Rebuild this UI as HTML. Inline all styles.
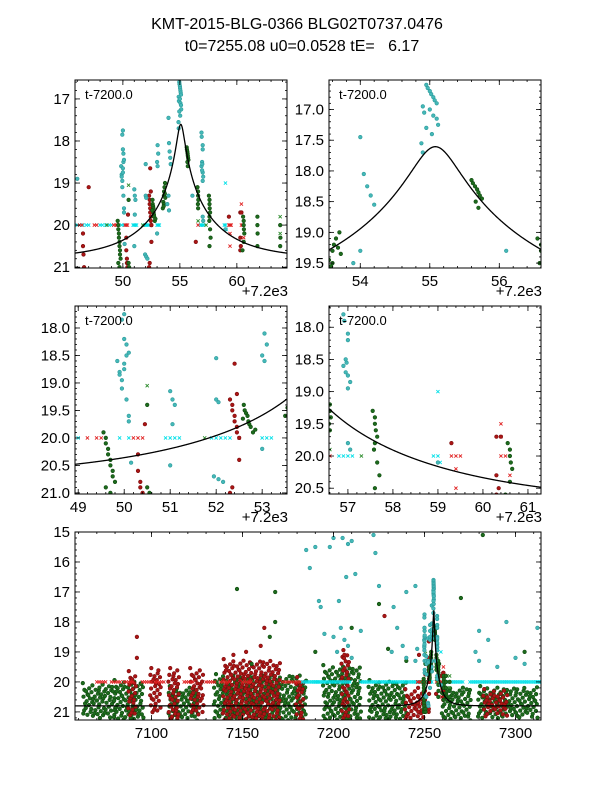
<!DOCTYPE html>
<html><head><meta charset="utf-8">
<style>
body{margin:0;background:#fff;}
svg text{font-family:"Liberation Sans","DejaVu Sans",sans-serif;}
</style></head>
<body>
<svg id="fig" width="600" height="800" viewBox="0 0 600 800">
<rect width="600" height="800" fill="#fff"/>
<text x="297" y="29" text-anchor="middle" font-size="16">KMT-2015-BLG-0366 BLG02T0737.0476</text>
<text x="302" y="51" text-anchor="middle" font-size="16" xml:space="preserve">t0=7255.08 u0=0.0528 tE=   6.17</text>
</svg>
<script>
// model parameters
const modelT0 = [7255.08];
const modelU0 = [0.0528];
const modelTE = [6.17];
const modelBase = [20.8];
// zoom-window data (t - 7200, magnitude)
const cyanT = [46.0,49.85,49.9,49.9,49.95,49.95,50.0,50.0,50.0,50.05,50.05,50.1,50.0,49.95,50.05,50.1,50.1,50.15,51.0,51.05,51.1,51.05,51.0,52.0,52.0,52.05,51.95,52.05,52.15,53.05,53.1,53.0,53.05,53.0,54.0,54.05,54.1,54.15,54.2,54.0,53.9,54.05,54.95,54.97,55.0,55.02,55.05,55.07,55.1,54.9,54.92,55.0,55.05,55.1,55.12,54.95,55.03,54.88,54.9,56.1,57.0,57.0,57.0,57.05,57.0,56.9,56.92,56.95,56.9,56.95,56.97,57.0,57.05,59.0];
const cyanM = [18.9,18.6,18.8,18.85,18.95,19.1,18.65,18.75,18.2,18.3,18.5,18.45,17.75,17.85,19.3,19.6,19.7,20.45,19.15,19.3,19.4,19.75,20.5,18.55,19.3,19.35,20.7,20.75,20.8,18.1,18.3,18.5,18.6,20.2,17.45,18.05,18.25,18.4,18.55,19.3,19.5,19.65,16.6,16.65,16.7,16.75,16.8,16.85,16.9,16.95,17.05,17.0,17.1,17.15,17.25,17.3,17.4,17.55,17.7,19.3,18.1,18.2,18.75,18.85,18.95,17.8,17.9,18.5,18.6,18.7,18.55,19.8,19.9,20.1];
const greenT = [49.55,49.6,49.6,49.65,49.65,49.7,49.7,49.75,49.75,49.8,49.6,49.7,50.5,50.5,50.55,52.6,52.62,52.65,52.68,52.7,52.72,52.75,52.8,52.58,52.85,53.5,53.55,53.6,53.62,53.65,53.7,53.68,53.72,53.6,53.58,55.6,55.62,55.65,55.68,55.7,55.72,55.75,55.66,55.7,56.55,56.6,56.6,56.62,56.58,56.6,57.55,57.6,57.6,57.62,57.65,57.6,57.58,57.65,57.7,57.6,60.55,60.6,60.6,60.62,60.65,60.6,60.5,61.8,61.8,61.82,61.8,63.8,63.82,63.8];
const greenM = [19.9,20.0,20.1,20.2,20.3,20.4,20.5,20.6,20.7,20.8,20.9,21.0,19.4,20.9,21.0,19.4,19.5,19.55,19.6,19.7,19.75,19.8,19.9,19.65,19.85,19.6,19.45,19.3,19.2,19.1,19.0,19.25,19.35,19.5,19.55,18.15,18.2,18.25,18.3,18.35,18.4,18.45,18.5,18.6,19.1,19.2,19.3,19.4,19.5,19.6,19.3,19.4,19.5,19.6,19.7,19.8,19.9,20.1,20.3,20.5,19.8,19.9,20.0,20.1,20.2,20.4,20.6,19.8,20.0,20.2,20.5,20.0,20.3,20.5];
const redT = [46.5,46.5,46.55,46.6,47.0,50.3,50.3,50.35,50.35,50.4,50.45,52.3,52.35,52.35,52.4,52.4,52.45,52.45,52.5,52.5,52.4,52.35,52.3,52.45,59.3,60.3,60.3,60.35,60.3,60.4,56.4];
const redM = [20.2,20.5,20.7,21.0,19.1,20.3,20.6,20.8,20.9,21.0,19.75,19.3,19.4,19.5,19.6,19.7,19.8,19.9,20.0,20.4,18.65,20.9,21.0,19.2,19.8,19.7,20.3,20.5,20.6,19.7,20.4];
const redXT = [46.2,46.4,47.5,47.7,49.2,49.4,49.5,50.2,50.3,50.4,52.5,56.6,59.3,59.4,59.5,60.4,60.5,59.4,59.4,60.4,60.4,60.6];
const redXM = [20,20,20,20,20,20,20,20,20,20,20,20,20,20,20,20,20,20.2,20.5,19.5,19.7,20.3];
const cyanXT = [46.0,46.2,46.5,46.8,47.0,48.0,48.2,48.5,48.8,49.0,49.9,50.1,50.9,51.0,51.1,51.2,51.9,52.0,52.1,52.2,52.3,53.0,53.1,53.2,56.8,56.9,57.0,57.1,58.9,59.0,59.0,59.05];
const cyanXM = [20,20,20,20,20,20,20,20,20,20,20,20,20,20,20,20,20,20,20,20,20,20,20,20,20,20,20,20,20,20,19.0,20.1];
const greenXT = [48.6,50.5,51.75,56.6,57.3,63.8,63.8];
const greenXM = [20.0,19.05,20.0,19.9,20.0,19.8,20.2];
// full-season clusters (panel 5): time range and magnitude span
const bandStart = [7063,7080,7110,7135,7195,7220,7260,7280,7088,7100,7110,7122,7140,7180,7205,7240,7283];
const bandEnd   = [7080,7095,7125,7185,7215,7240,7275,7312,7092,7105,7115,7128,7170,7184,7208,7250,7295];
const bandLo    = [20.1,20.0,20.2,19.8,19.5,20.0,20.2,20.2,19.7,19.6,19.6,19.6,19.3,19.9,19.0,20.3,20.3];
const bandHi    = [21.2,21.3,21.3,21.3,21.3,21.3,21.3,21.2,21.2,21.0,21.3,21.1,21.3,21.3,21.3,21.3,21.1];
const bandSeries= ['g','g','g','g','g','g','g','g','r','r','r','r','r','r','r','r','r'];
const seasonCyanT = [7185,7187,7190,7192,7193,7195,7198,7200,7203,7205,7208,7210,7207,7212,7200,7202,7208,7215,7222,7223,7225,7233,7235,7238,7232,7240,7245,7240,7245,7250,7280,7285,7278,7280,7295,7300,7312,7315,7290,7305,7204,7206,7210];
const seasonCyanM = [15.6,16.2,15.5,17.3,17.5,18.4,15.5,15.2,17.3,15.2,15.4,15.3,16.5,16.4,18.5,19.0,18.8,18.3,15.1,15.7,16.8,17.5,18.2,18.8,19.0,17.0,16.8,19.2,19.3,18.2,18.3,18.6,19.0,19.3,18.0,19.2,18.2,17.9,19.5,19.4,18.2,18.6,19.2];
const seasonGreenT = [7147,7168,7168,7165,7270,7282,7225,7210,7240,7258,7305,7155,7190,7230];
const seasonGreenM = [16.9,17.0,18.0,18.5,17.2,15.1,17.4,18.2,19.3,19.4,19.0,19.4,19.0,18.9];
const seasonRedT = [7092,7092,7152,7162,7228,7145,7160,7206];
const seasonRedM = [18.5,19.2,19.0,18.2,17.8,19.1,18.8,19.1];
const seasonRedXT = [7070,7078,7085,7095,7102,7118,7130,7138,7150,7172,7178];
const seasonCyanXT = [7183,7190,7200,7215,7225,7235,7245,7262,7275,7285,7295,7305,7312];

const NS = 'http://www.w3.org/2000/svg';
const svg = document.getElementById('fig');
function mk(tag, attrs, parent){const e=document.createElementNS(NS,tag);for(const k in attrs)e.setAttribute(k,attrs[k]);(parent||svg).appendChild(e);return e;}

function modelMag(t){
  const u=Math.sqrt(modelU0[0]*modelU0[0]+Math.pow((t-modelT0[0])/modelTE[0],2));
  const A=(u*u+2)/(u*Math.sqrt(u*u+4));
  return modelBase[0]-2.5*Math.log10(A);
}

const panels = [
  {name:'panel-overview-zoom',x:75,y:80,w:212,h:188,xd:[45.8,64.4],yd:[16.55,21.02],xt:[50,55,60],xm:1,yt:[17,18,19,20,21],ym:0.2,yf:0,zoom:true},
  {name:'panel-peak-zoom',x:329,y:80,w:212,h:188,xd:[53.55,56.6],yd:[16.52,19.58],xt:[54,55,56],xm:0.2,yt:[17,17.5,18,18.5,19,19.5],ym:0.1,yf:1,zoom:true},
  {name:'panel-rise-zoom',x:75,y:306,w:212,h:188,xd:[48.93,53.54],yd:[17.6,21.02],xt:[49,50,51,52,53],xm:0.2,yt:[18,18.5,19,19.5,20,20.5,21],ym:0.1,yf:1,zoom:true},
  {name:'panel-fall-zoom',x:329,y:306,w:212,h:188,xd:[56.58,61.29],yd:[17.67,20.59],xt:[57,58,59,60,61],xm:0.2,yt:[18,18.5,19,19.5,20,20.5],ym:0.1,yf:1,zoom:true},
  {name:'panel-full-season',x:75,y:532,w:466,h:188,xd:[7058,7314],yd:[15,21.27],xt:[7100,7150,7200,7250,7300],xm:10,yt:[15,16,17,18,19,20,21],ym:0.2,yf:0,zoom:false}
];

const colCyan='#45b8b8', edgeCyan='#2a9a9a', colGreen='#1d6b1d', edgeGreen='#0f4a0f', colRed='#aa1515', edgeRed='#7a0c0c';

panels.forEach((p,pi)=>{
  const g=mk('g',{});
  
  
  const X=v=>p.x+(v-p.xd[0])/(p.xd[1]-p.xd[0])*p.w;
  const Y=v=>p.y+(v-p.yd[0])/(p.yd[1]-p.yd[0])*p.h;
  const cid='clip'+pi;
  const cp=mk('clipPath',{id:cid},g); mk('rect',{x:p.x,y:p.y,width:p.w,height:p.h},cp);
  const dg=mk('g',{'clip-path':'url(#'+cid+')'},g);
  
  
  const dot=(t,m,f,s)=>{mk('circle',{cx:X(t).toFixed(1),cy:Y(m).toFixed(1),r:1.8,fill:f,stroke:s,'stroke-width':0.6},dg);};
  const cross=(t,m,col)=>{const cx=X(t),cy=Y(m),d=1.6;mk('path',{d:`M${cx-d},${cy-d}L${cx+d},${cy+d}M${cx-d},${cy+d}L${cx+d},${cy-d}`,stroke:col,'stroke-width':0.9},dg);};
  const o = p.zoom ? 0 : 7200;
  if(!p.zoom){
    bandStart.forEach((s,i)=>{
      const col=bandSeries[i]==='g'?colGreen:colRed, ed=bandSeries[i]==='g'?edgeGreen:edgeRed;
      let k=0;
      for(let t=s;t<=bandEnd[i];t+=1.5){
        let j=0;
        for(let m=bandLo[i]+(((k*5)%7)*0.035);m<=bandHi[i];m+=0.2){
          const dt=(((k*13+j*7+i*3)%11)/11)*1.4-0.7;
          const dm=(((k*7+j*11)%9)/9)*0.12-0.06;
          dot(t+dt,m+dm,col,ed);j++;
        }
        k++;
      }
    });
    seasonRedXT.forEach(t=>{for(let d=0;d<6;d+=1.2)cross(t+d,20,'#e02020');});
    seasonCyanXT.forEach(t=>{for(let d=0;d<10;d+=1)cross(t+d,20,'#00e0e8');});
    seasonGreenT.forEach((t,i)=>dot(t,seasonGreenM[i],colGreen,edgeGreen));
    seasonRedT.forEach((t,i)=>dot(t,seasonRedM[i],colRed,edgeRed));
    seasonCyanT.forEach((t,i)=>dot(t,seasonCyanM[i],colCyan,edgeCyan));
  }
  cyanXT.forEach((t,i)=>cross(t+o,cyanXM[i],'#00e0e8'));
  redXT.forEach((t,i)=>cross(t+o,redXM[i],'#e02020'));
  greenXT.forEach((t,i)=>cross(t+o,greenXM[i],'#2a8a2a'));
  redT.forEach((t,i)=>dot(t+o,redM[i],colRed,edgeRed));
  greenT.forEach((t,i)=>dot(t+o,greenM[i],colGreen,edgeGreen));
  cyanT.forEach((t,i)=>dot(t+o,cyanM[i],colCyan,edgeCyan));
  let d='';const n=800;
  for(let k=0;k<=n;k++){const t=p.xd[0]+(p.xd[1]-p.xd[0])*k/n;const tt=p.zoom?t+7200:t;d+=(k?'L':'M')+X(t).toFixed(2)+','+Y(modelMag(tt)).toFixed(2);}
  const curve=mk('path',{d:d,fill:'none',stroke:'#000','stroke-width':1.3},dg);
  
  
  mk('rect',{x:p.x,y:p.y,width:p.w,height:p.h,fill:'none',stroke:'#000','stroke-width':1},g);
  const tk=mk('g',{stroke:'#000','stroke-width':0.8},g);
  for(let v=Math.ceil(p.xd[0]/p.xm)*p.xm;v<=p.xd[1];v+=p.xm){const x=X(v);mk('line',{x1:x,x2:x,y1:p.y+p.h,y2:p.y+p.h-2},tk);mk('line',{x1:x,x2:x,y1:p.y,y2:p.y+2},tk);}
  for(let v=Math.ceil(p.yd[0]/p.ym-1e-6)*p.ym;v<=p.yd[1];v+=p.ym){const y=Y(v);mk('line',{x1:p.x,x2:p.x+2,y1:y,y2:y},tk);mk('line',{x1:p.x+p.w,x2:p.x+p.w-2,y1:y,y2:y},tk);}
  p.xt.forEach(v=>{const x=X(v);mk('line',{x1:x,x2:x,y1:p.y+p.h,y2:p.y+p.h-5},tk);mk('line',{x1:x,x2:x,y1:p.y,y2:p.y+5},tk);
    const t=mk('text',{x:x,y:p.y+p.h+18,'text-anchor':'middle','font-size':15},g);t.textContent=v;
    
    });
  p.yt.forEach(v=>{const y=Y(v);mk('line',{x1:p.x,x2:p.x+5,y1:y,y2:y},tk);mk('line',{x1:p.x+p.w,x2:p.x+p.w-5,y1:y,y2:y},tk);
    const t=mk('text',{x:p.x-5,y:y+5,'text-anchor':'end','font-size':15},g);t.textContent=v.toFixed(p.yf);
    
    });
  if(p.zoom){const t=mk('text',{x:p.x+10,y:p.y+19,'font-size':13},g);t.textContent='t-7200.0';
    
    }
  if(p.zoom){const t=mk('text',{x:p.x+p.w+1,y:p.y+p.h+28,'text-anchor':'end','font-size':15},g);t.textContent='+7.2e3';
    
    }
});
</script>
</body></html>
